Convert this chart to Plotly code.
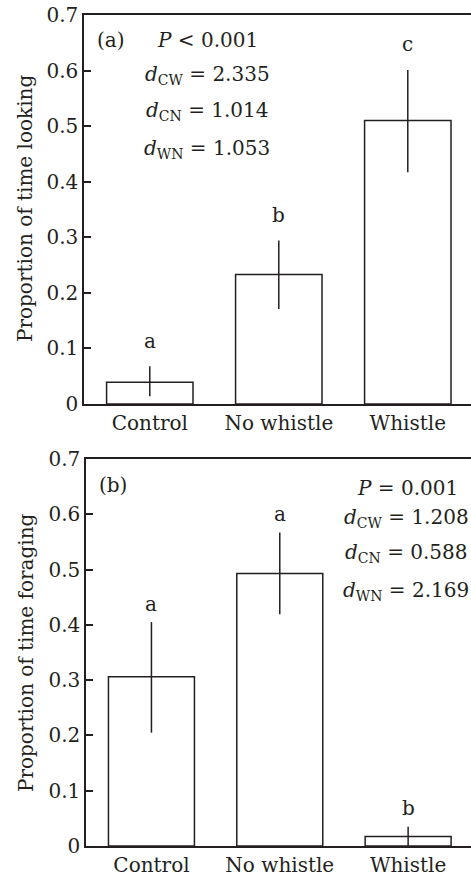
import plotly.graph_objects as go

categories = ["Control", "No whistle", "Whistle"]

# Panel (a): proportion of time looking
looking_mean = [0.039, 0.233, 0.510]
looking_err_up = [0.029, 0.061, 0.091]
looking_err_down = [0.025, 0.062, 0.093]
looking_letters = ["a", "b", "c"]

# Panel (b): proportion of time foraging
foraging_mean = [0.306, 0.493, 0.017]
foraging_err_up = [0.099, 0.074, 0.018]
foraging_err_down = [0.101, 0.074, 0.017]
foraging_letters = ["a", "a", "b"]

y_tickvals = [0, 0.1, 0.2, 0.3, 0.4, 0.5, 0.6, 0.7]
y_ticktext = ["0", "0.1", "0.2", "0.3", "0.4", "0.5", "0.6", "0.7"]

W, H = 471, 875
FONT = "DejaVu Serif"
INK = "#231f20"
FS = 20

fig = go.Figure()

def add_bars(means, up, down, xa, ya):
    fig.add_trace(go.Bar(
        x=categories, y=means, xaxis=xa, yaxis=ya,
        width=0.67,
        marker=dict(color="white", line=dict(color=INK, width=1.5)),
        error_y=dict(type="data", symmetric=False, array=up, arrayminus=down,
                     color=INK, thickness=1.5, width=0),
        showlegend=False, hoverinfo="skip",
    ))

add_bars(looking_mean, looking_err_up, looking_err_down, "x", "y")
add_bars(foraging_mean, foraging_err_up, foraging_err_down, "x2", "y2")

# letters above error bars
for cat, m, u, L in zip(categories, looking_mean, looking_err_up, looking_letters):
    fig.add_annotation(x=cat, y=m + u + 0.046, xref="x", yref="y", text=L,
                       showarrow=False, font=dict(family=FONT, size=FS, color=INK),
                       yanchor="middle")
for cat, m, u, L in zip(categories, foraging_mean, foraging_err_up, foraging_letters):
    fig.add_annotation(x=cat, y=m + u + 0.033, xref="x2", yref="y2", text=L,
                       showarrow=False, font=dict(family=FONT, size=FS, color=INK),
                       yanchor="middle")

def px_ann(text, x, y, anchor="center", angle=0):
    fig.add_annotation(x=x / W, y=1 - y / H, xref="paper", yref="paper", text=text,
                       showarrow=False, xanchor=anchor, yanchor="middle",
                       textangle=angle,
                       font=dict(family=FONT, size=FS, color=INK))

# axis titles
px_ann("Proportion of time looking", 25, 209, angle=-90)
px_ann("Proportion of time foraging", 26, 653, angle=-90)

# panel (a) stats
px_ann("(a)", 95, 40, "left")
px_ann("<i>P</i> < 0.001", 207, 40)
px_ann("<i>d</i><sub>CW</sub> = 2.335", 207, 75)
px_ann("<i>d</i><sub>CN</sub> = 1.014", 207, 111)
px_ann("<i>d</i><sub>WN</sub> = 1.053", 207, 149)

# panel (b) stats
px_ann("(b)", 97, 485, "left")
px_ann("<i>P</i> = 0.001", 407, 488)
px_ann("<i>d</i><sub>CW</sub> = 1.208", 406, 518)
px_ann("<i>d</i><sub>CN</sub> = 0.588", 406, 553)
px_ann("<i>d</i><sub>WN</sub> = 2.169", 406, 591)

xaxis_common = dict(
    range=[-0.51, 2.49], showline=True, linecolor=INK, linewidth=1.5,
    mirror=True, ticks="", showgrid=False, zeroline=False,
    tickfont=dict(family=FONT, size=FS, color=INK),
    ticklabelstandoff=0, automargin=False,
)
yaxis_common = dict(
    range=[0, 0.7], tickvals=y_tickvals, ticktext=y_ticktext,
    showline=True, linecolor=INK, linewidth=1.5, ticks="inside", ticklen=7,
    tickcolor=INK, tickwidth=1.5, showgrid=False, zeroline=False,
    tickfont=dict(family=FONT, size=FS, color=INK), automargin=False,
)

fig.update_layout(
    width=W, height=H,
    margin=dict(l=0, r=0, t=0, b=0),
    paper_bgcolor="white", plot_bgcolor="white",
    xaxis=dict(**xaxis_common, anchor="y", domain=[84 / W, 1.0]),
    yaxis=dict(**yaxis_common, domain=[1 - 404 / H, 1 - 15 / H], anchor="x"),
    xaxis2=dict(**xaxis_common, anchor="y2", domain=[86 / W, 1.0]),
    yaxis2=dict(**yaxis_common, domain=[1 - 846 / H, 1 - 459 / H], anchor="x2"),
)

fig.write_html("out.html")
